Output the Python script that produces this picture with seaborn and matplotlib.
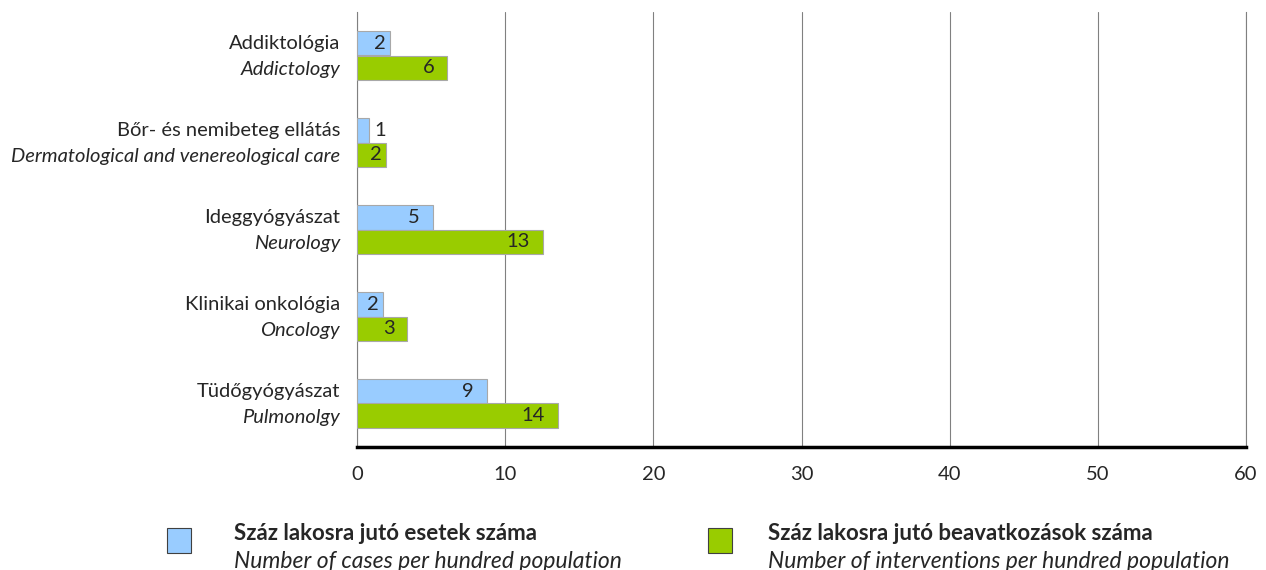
import numpy as np
import matplotlib
matplotlib.use("Agg")
import matplotlib.pyplot as plt
import matplotlib.patches as mpatches
import pandas as pd
import seaborn as sns

# adatok
kategoriak_hu = ["Addiktológia", "Bőr- és nemibeteg ellátás", "Ideggyógyászat",
                 "Klinikai onkológia", "Tüdőgyógyászat"]
kategoriak_en = ["Addictology", "Dermatological and venereological care", "Neurology",
                 "Oncology", "Pulmonolgy"]
esetek = [2.2, 0.8, 5.1, 1.75, 8.75]
beavatkozasok = [6.1, 1.95, 12.55, 3.4, 13.55]
sorozat_hu = ["Száz lakosra jutó esetek száma", "Száz lakosra jutó beavatkozások száma"]
sorozat_en = ["Number of cases per hundred population",
              "Number of interventions per hundred population"]
szinek = ["#99CCFF", "#99CC00"]
x_ticks = [0, 10, 20, 30, 40, 50, 60]

df = pd.DataFrame({
    "kat": kategoriak_hu * 2,
    "ertek": esetek + beavatkozasok,
    "sor": [sorozat_hu[0]] * 5 + [sorozat_hu[1]] * 5,
})

sns.set_style("white")
plt.rcParams["font.family"] = ["Lato", "DejaVu Sans"]

fig = plt.figure(figsize=(12.66, 5.70), dpi=100)
ax = fig.add_axes([357 / 1266, 1 - 447 / 570, 889 / 1266, 435 / 570])

sns.barplot(data=df, y="kat", x="ertek", hue="sor", order=kategoriak_hu,
            hue_order=sorozat_hu, palette=szinek, saturation=1, orient="h", width=0.56,
            edgecolor="#A8A8A8", linewidth=0.8, ax=ax, legend=False, zorder=3)

ax.set_xlim(0, 60)
ax.set_ylim(4.5, -0.5)
ax.set_xticks(x_ticks)
ax.set_xticklabels([str(t) for t in x_ticks], fontsize=14.5)
ax.set_xlabel("")
ax.set_ylabel("")
ax.set_yticks([])
ax.grid(axis="x", color="#808080", linewidth=0.8, zorder=0)
ax.set_axisbelow(True)
ax.spines["top"].set_visible(False)
ax.spines["right"].set_color("#808080")
ax.spines["right"].set_linewidth(0.8)
ax.spines["left"].set_color("#808080")
ax.spines["left"].set_linewidth(0.8)
ax.spines["bottom"].set_color("black")
ax.spines["bottom"].set_linewidth(2.5)
ax.tick_params(axis="x", direction="out", length=5, width=1.2, color="black", pad=9)

# kategória címkék (két sor)
for i, (hu, en) in enumerate(zip(kategoriak_hu, kategoriak_en)):
    ax.text(-0.019, i - 0.14, hu, transform=ax.get_yaxis_transform(), ha="right",
            va="center", fontsize=14.5)
    ax.text(-0.019, i + 0.16, en, transform=ax.get_yaxis_transform(), ha="right",
            va="center", fontsize=14.5, style="italic")

# értékcímkék
px_per_unit = 889 / 60
for p in ax.patches:
    w = p.get_width()
    yc = p.get_y() + p.get_height() / 2
    if w <= 0:
        continue
    lab = f"{w:.0f}"
    w_px = w * px_per_unit
    if w_px < 18:
        ax.annotate(lab, (w, yc), xytext=(6 * 0.72, 0), textcoords="offset points",
                    ha="left", va="center", fontsize=14.5, zorder=5)
    else:
        pad = 13 if w_px > 45 else 4
        ax.annotate(lab, (w, yc), xytext=(-pad * 0.72, 0), textcoords="offset points",
                    ha="right", va="center", fontsize=14.5, zorder=5)

# jelmagyarázat
leg_x = [167, 708]
txt_x = [234, 768]
for k in range(2):
    fig.patches.append(mpatches.Rectangle((leg_x[k] / 1266, 1 - 553 / 570), 24 / 1266, 25 / 570,
                                          transform=fig.transFigure, facecolor=szinek[k],
                                          edgecolor="#404040", linewidth=0.8))
    fig.text(txt_x[k] / 1266, 1 - 534 / 570, sorozat_hu[k], fontsize=16, weight="bold",
             va="center", ha="left")
    fig.text(txt_x[k] / 1266, 1 - 561 / 570, sorozat_en[k], fontsize=16.5, style="italic",
             va="center", ha="left")

fig.savefig("out.png", dpi=100)
